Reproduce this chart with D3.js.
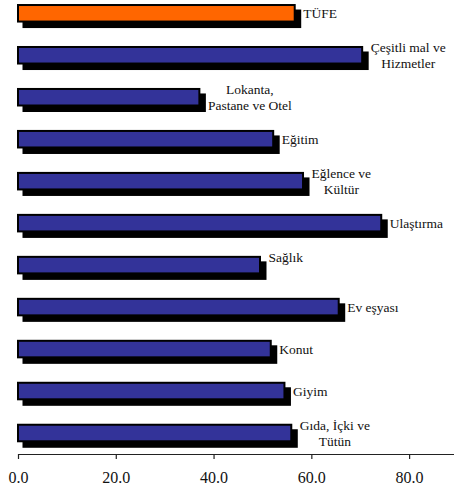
<!DOCTYPE html>
<html>
<head>
<meta charset="utf-8">
<script src="https://cdn.jsdelivr.net/npm/d3@7"></script>
<style>
  html, body { margin: 0; padding: 0; background: #fff; }
  svg { display: block; }
  svg text { font-family: "Times New Roman", "Liberation Serif", Tinos, "Nimbus Roman", "DejaVu Serif", serif !important; fill: #111; }
</style>
</head>
<body>
<svg id="chart" width="454" height="493"></svg>
<script>
// Category labels (each entry is the list of lines drawn beside the bar)
const categories = [
  ["TÜFE"],
  ["Çeşitli mal ve", "Hizmetler"],
  ["Lokanta,", "Pastane ve Otel"],
  ["Eğitim"],
  ["Eğlence ve", "Kültür"],
  ["Ulaştırma"],
  ["Sağlık", ""],
  ["Ev eşyası"],
  ["Konut"],
  ["Giyim"],
  ["Gıda, İçki ve", "Tütün"]
];
const values = [56.6, 70.4, 37.1, 52.2, 58.3, 74.3, 49.5, 65.6, 51.7, 54.5, 55.9];
const highlight = [true, false, false, false, false, false, false, false, false, false, false];
const tickValues = [0, 20, 40, 60, 80];

const svg = d3.select("#chart");
const axisY = 454;
const shadow = 5.5;
const serif = "'Times New Roman', 'Liberation Serif', Tinos, 'DejaVu Serif', serif";

const x = d3.scaleLinear().domain([0, 90]).range([18, 458]);
const y = d3.scaleBand()
  .domain(d3.range(categories.length))
  .range([-7.7, axisY])
  .paddingInner(0.606)
  .paddingOuter(0.303);

const rows = svg.append("g").selectAll("g.row")
  .data(values.map((v, i) => ({ v, i, lines: categories[i], hi: highlight[i] })))
  .join("g").attr("class", "row");

// drop shadow behind each bar
rows.append("rect")
  .attr("x", d => x(0) - 1 + shadow)
  .attr("y", d => y(d.i) - 1 + shadow)
  .attr("width", d => x(d.v) - x(0) + 2)
  .attr("height", y.bandwidth() + 2)
  .attr("fill", "#000");

// bar
rows.append("rect")
  .attr("x", x(0))
  .attr("y", d => y(d.i))
  .attr("width", d => x(d.v) - x(0))
  .attr("height", y.bandwidth())
  .attr("fill", d => d.hi ? "#FF6600" : "#333399")
  .attr("stroke", "#000")
  .attr("stroke-width", 2);

// category labels, placed right of the shadow, lines centred on each other
const lineH = 16;
rows.each(function (d) {
  const g = d3.select(this);
  const cy = y(d.i) + y.bandwidth() / 2;
  const n = d.lines.length;
  const t = g.append("text")
    .style("font-family", serif)
    .attr("font-size", "13.5px");
  const spans = d.lines.map((line, k) =>
    t.append("tspan")
      .attr("y", cy + (k - (n - 1) / 2) * lineH)
      .attr("dy", "0.35em")
      .text(line));
  const left = x(d.v) + 1 + shadow + 2;
  const widths = spans.map(s => s.node().getComputedTextLength());
  const maxW = d3.max(widths);
  spans.forEach((s, k) => s.attr("x", left + (maxW - widths[k]) / 2));
});

// value axis
const axis = d3.axisBottom(x)
  .tickValues(tickValues)
  .tickFormat(d3.format(".1f"))
  .tickSizeInner(5)
  .tickSizeOuter(0)
  .tickPadding(12.5);

const ax = svg.append("g")
  .attr("transform", `translate(0,${axisY})`)
  .call(axis)
  .attr("font-family", null);
ax.select(".domain").attr("stroke", "#222").attr("stroke-width", 1.2);
ax.selectAll(".tick line").attr("stroke", "#222").attr("stroke-width", 1.2);
ax.selectAll(".tick text")
  .style("font-family", serif)
  .attr("font-size", "16px")
  .attr("fill", "#111");
</script>
</body>
</html>
